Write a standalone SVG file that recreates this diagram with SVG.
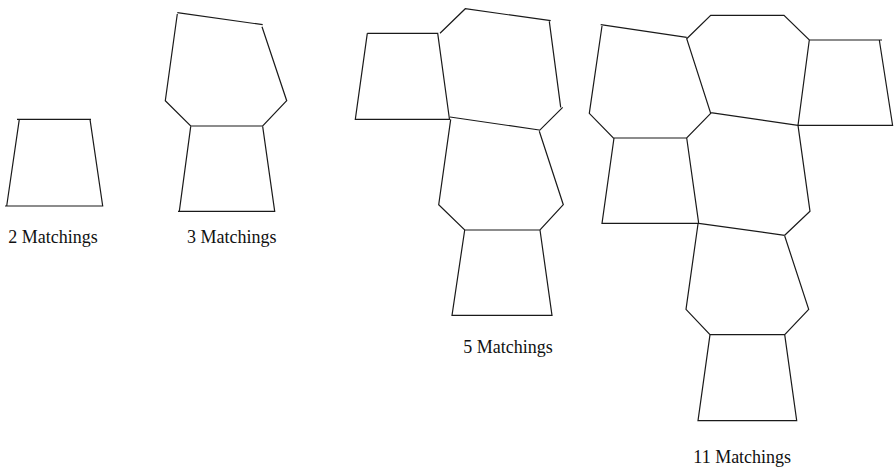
<svg xmlns="http://www.w3.org/2000/svg" width="894" height="470" viewBox="0 0 894 470">
<style>
.e{fill:none;stroke:#1a1a1a;stroke-width:1.2;stroke-linejoin:miter;stroke-linecap:butt}
.t{font-family:"Liberation Serif","Times New Roman",serif;font-size:18px;fill:#111}
</style>
<rect width="894" height="470" fill="#fff"/>
<g id="fig-2-matchings">
<path class="e" d="M17,119.3 H91 M19.3,119.3 L6.7,206 M90,119.3 L102.7,206 M5,206 H103.3"/>
<text class="t" x="8.3" y="242.5">2 Matchings</text>
</g>
<g id="fig-3-matchings">
<path class="e" d="M177.3,12.7 L262.7,24.7 M177.3,14 L165.3,100.7 L190.7,126 H262.7 L286.7,100.7 L262,26.7 M190.7,126.7 L179.3,211.3 M262.7,126.7 L274.7,211.3 M178,211.3 H275.3"/>
<text class="t" x="187" y="242.5">3 Matchings</text>
</g>
<g id="fig-5-matchings">
<path class="e" d="M367.3,33.3 H438.3 M367.3,33.3 L355.3,119.3 H450 M437.7,33.3 L449.5,119.5 M440,33.3 L465.3,8.7 L550.7,20.7 M549.3,21.3 L560.7,107.3 M562.7,107.3 L539.3,130.7 M450,117 L539.3,130 M450.7,119.3 L438.7,204.7 L464.7,230 H540 L563.3,204.7 L539.3,131.3 M464.7,230 L452,315.3 H552 L540,230"/>
<text class="t" x="463.3" y="352.5">5 Matchings</text>
</g>
<g id="fig-11-matchings">
<path class="e" d="M600.7,24.7 L686.7,37.3 M602,26 L589.3,113.3 L613.3,138 H686.7 L710.7,113.3 L686.7,38.7 L710.7,15.3 H784 L809.3,40 H882 M879.3,40 L892.7,126 M809.3,40 L798,125.3 H892.7 M710.7,112.7 L798,125.3 M614,138 L602,223.3 H698.7 M686.7,138 L698.7,223.3 M798,125.3 L810,211.3 L784.7,235.3 M698.7,223.3 L784.7,235.3 M698,224 L686,309.3 L710,334.7 H784.7 L808.7,309.3 L784.7,236 M710,334.7 L698,420.7 H796.7 L784.7,334.7"/>
<text class="t" x="693.3" y="462.5">11 Matchings</text>
</g>
</svg>
